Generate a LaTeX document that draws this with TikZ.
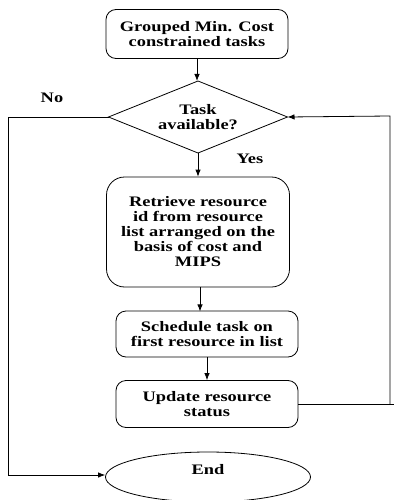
\documentclass[tikz,border=0pt]{standalone}
\usepackage{fontspec}
\setmainfont{Liberation Serif}[FakeStretch=1.27]
\usetikzlibrary{shapes.geometric,arrows.meta}
\begin{document}
\begin{tikzpicture}[x=1pt,y=-1pt,
  font=\bfseries\fontsize{14.5}{15}\selectfont,
  box/.style={draw,rounded corners=10pt,align=center,inner sep=0pt,line width=0.8pt},
  arr/.style={-{Latex[length=7pt,width=5.5pt]},line width=0.8pt},
  ln/.style={line width=0.8pt}]
\clip (0,0) rectangle (394,500);
\useasboundingbox (0,0) rectangle (394,500);
\node[box,minimum width=182pt,minimum height=49pt] (start) at (197,34) {Grouped Min. Cost\\constrained tasks};
\node[draw,diamond,aspect=2.5,line width=0.8pt,inner sep=0pt,outer sep=0pt,minimum width=179pt,minimum height=72pt,align=center] (dec) at (198,117) {Task\\available?};
\node[box,rounded corners=18pt,minimum width=183pt,minimum height=110pt] (ret) at (198,232) {Retrieve resource\\id from resource\\list arranged on the\\basis of cost and\\MIPS};
\node[box,minimum width=182pt,minimum height=46pt] (sch) at (207,334) {Schedule task on\\first resource in list};
\node[box,minimum width=182pt,minimum height=47pt] (upd) at (207,404) {Update resource\\status};
\node[draw,ellipse,line width=0.8pt,minimum width=205pt,minimum height=50pt] (end) at (208,477) {};
\node (endt) at (208,470) {End};
\node (no) at (52,98) {No};
\node (yes) at (250,159) {Yes};
\coordinate (l1) at (8,117);
\coordinate (l2) at (8,475);
\coordinate (r1) at (390,404);
\coordinate (r2) at (390,116);
\coordinate (r0) at (394,404);
\draw[arr] (start.south) -- (start.south |- dec.north);
\draw[arr] (dec.south) -- (dec.south |- ret.north);
\draw[arr] (ret.south -| sch.north) ++(-7,0) -- ++(0,24);
\draw[arr] (sch.south) -- (upd.north);
\draw[ln] (dec.west) -- (l1) -- (l2);
\draw[arr] (l2) -- (end.west |- l2);
\draw[ln] (upd.east) -- (r0);
\draw[arr] (r1) -- (r2) -- (dec.east);
\end{tikzpicture}
\end{document}
